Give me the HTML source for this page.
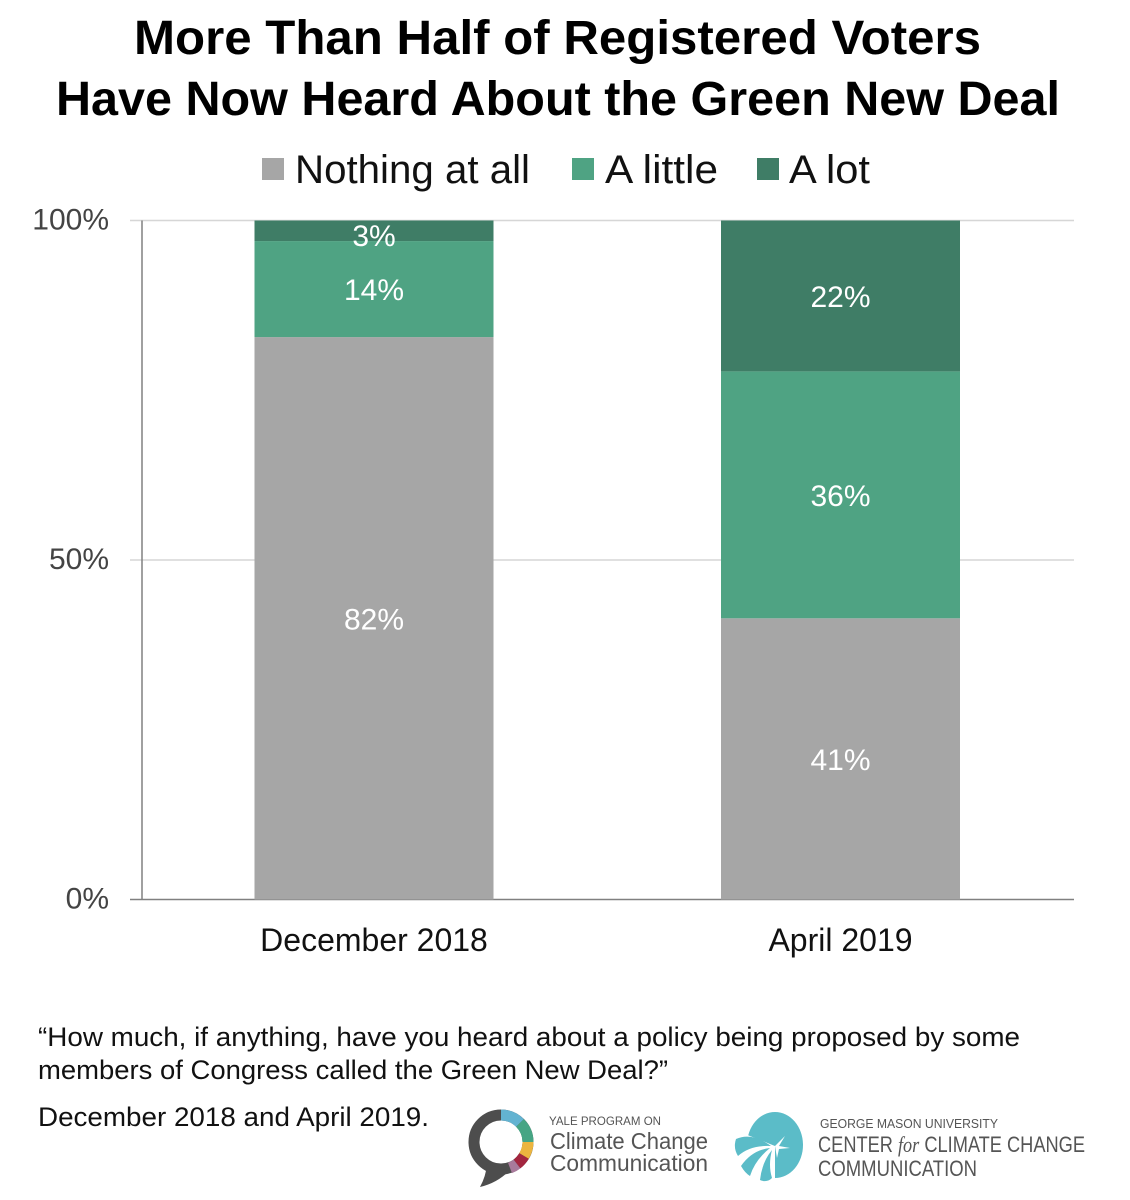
<!DOCTYPE html>
<html lang="en">
<head>
<meta charset="utf-8">
<title>More Than Half of Registered Voters Have Now Heard About the Green New Deal</title>
<style>
html,body{margin:0;padding:0;background:#fff;width:1130px;height:1200px;overflow:hidden}
svg{display:block;font-family:"Liberation Sans",Arial,sans-serif}
</style>
</head>
<body>
<svg id="chart" xmlns="http://www.w3.org/2000/svg" width="1130" height="1200" viewBox="0 0 1130 1200">
  <g font-weight="700" font-size="48" fill="#000">
    <text x="134" y="54" textLength="847" lengthAdjust="spacingAndGlyphs">More Than Half of Registered Voters</text>
    <text x="56" y="115" textLength="1004" lengthAdjust="spacingAndGlyphs">Have Now Heard About the Green New Deal</text>
  </g>
  <g font-size="40" fill="#111">
    <g>
      <rect x="262" y="158" width="22" height="22" fill="#a6a6a6"/>
      <text x="295" y="183" textLength="235" lengthAdjust="spacingAndGlyphs">Nothing at all</text>
    </g>
    <g>
      <rect x="572" y="158" width="22" height="22" fill="#4fa383"/>
      <text x="605" y="183" textLength="113" lengthAdjust="spacingAndGlyphs">A little</text>
    </g>
    <g>
      <rect x="757" y="158" width="22" height="22" fill="#3f7d66"/>
      <text x="789" y="183" textLength="81" lengthAdjust="spacingAndGlyphs">A lot</text>
    </g>
  </g>
  <g id="plot"></g>
  <g font-size="27" fill="#111">
    <text x="38" y="1046" textLength="982" lengthAdjust="spacingAndGlyphs">“How much, if anything, have you heard about a policy being proposed by some</text>
    <text x="38" y="1079" textLength="630" lengthAdjust="spacingAndGlyphs">members of Congress called the Green New Deal?”</text>
    <text x="38" y="1126" textLength="391" lengthAdjust="spacingAndGlyphs">December 2018 and April 2019.</text>
  </g>
  <g>
    <g fill="none" stroke-width="11">
      <circle cx="501" cy="1142" r="27" stroke="#4d4d4d"/>
      <path d="M501 1115A27 27 0 0 1 520 1123" stroke="#63b3d1"/>
      <path d="M520 1123A27 27 0 0 1 528 1142" stroke="#46a584"/>
      <path d="M528 1142A27 27 0 0 1 524 1156" stroke="#ecb53f"/>
      <path d="M524 1156A27 27 0 0 1 517 1164" stroke="#a3263f"/>
      <path d="M517 1164A27 27 0 0 1 510 1168" stroke="#a87a9b"/>
    </g>
    <path d="M487 1164L509 1171Q497 1183 480 1187Q486 1176 487 1164Z" fill="#4d4d4d"/>
    <text x="549" y="1125" font-size="12" fill="#555" textLength="112" lengthAdjust="spacingAndGlyphs">YALE PROGRAM ON</text>
    <text x="550" y="1149" font-size="23" fill="#555" textLength="158" lengthAdjust="spacingAndGlyphs">Climate Change</text>
    <text x="550" y="1171" font-size="23" fill="#555" textLength="158" lengthAdjust="spacingAndGlyphs">Communication</text>
  </g>
  <g>
    <g fill="#5bbcc8">
      <ellipse cx="775" cy="1145" rx="28" ry="33"/>
      <path d="M775 1146L745 1134L733 1150L745 1182L775 1182Z" fill="#fff"/>
      <path d="M771 1146Q752 1132 736 1139Q733 1148 738 1156Q750 1145 771 1146Z"/>
      <path d="M770 1148Q752 1150 741 1166Q745 1173 750 1176Q755 1160 770 1148Z"/>
      <path d="M772 1150Q762 1162 760 1180Q767 1183 772 1178Q768 1165 772 1150Z"/>
      <path d="M775 1146L785 1136L779 1146L790 1148L779 1149L777 1158Z" fill="#fff"/>
    </g>
    <text x="820" y="1128" font-size="12.5" fill="#555" textLength="178" lengthAdjust="spacingAndGlyphs">GEORGE MASON UNIVERSITY</text>
    <text x="818" y="1152" font-size="22" fill="#555" textLength="267" lengthAdjust="spacingAndGlyphs">CENTER <tspan font-family="Liberation Serif" font-style="italic">for</tspan> CLIMATE CHANGE</text>
    <text x="818" y="1176" font-size="22" fill="#555" textLength="159" lengthAdjust="spacingAndGlyphs">COMMUNICATION</text>
  </g>
</svg>
<script>
var categories = ["December 2018", "April 2019"];
var nothingAtAll = [82, 41];
var aLittle = [14, 36];
var aLot = [3, 22];
var tickValues = [0, 50, 100];
var tickLabels = ["0%", "50%", "100%"];

var NS = "http://www.w3.org/2000/svg";
var plot = document.getElementById("plot");
var LEFT = 142, RIGHT = 1074, TOP = 220.5, BOTTOM = 899.5, BAR_WIDTH = 239;
var seriesList = [
  {key: "nothing-at-all", values: nothingAtAll, color: "#a6a6a6"},
  {key: "a-little", values: aLittle, color: "#4fa383"},
  {key: "a-lot", values: aLot, color: "#3f7d66"}
];

function yScale(pct) {
  return BOTTOM - (pct / 100) * (BOTTOM - TOP);
}
function xCenter(i) {
  return 374 + i * 466.5;
}
function make(tag, attrs, text) {
  var el = document.createElementNS(NS, tag);
  for (var k in attrs) el.setAttribute(k, attrs[k]);
  if (text !== undefined) el.textContent = text;
  return el;
}

tickValues.forEach(function (v, i) {
  var y = yScale(v);
  var line = make("line", {x1: 130, x2: RIGHT, y1: y, y2: y, stroke: v === 0 ? "#808080" : "#d6d6d6", "stroke-width": 1.5});
  
  
  plot.appendChild(line);
  var label = make("text", {x: 109, y: y + 9, "text-anchor": "end", "font-size": 30, fill: "#444"}, tickLabels[i]);
  
  
  plot.appendChild(label);
});

var axis = make("line", {x1: LEFT, x2: LEFT, y1: TOP, y2: BOTTOM, stroke: "#808080", "stroke-width": 1.5});


plot.appendChild(axis);

categories.forEach(function (cat, i) {
  var total = 0;
  seriesList.forEach(function (s) { total += s.values[i]; });
  var running = 0;
  seriesList.forEach(function (s) {
    var start = running / total * 100;
    running += s.values[i];
    var end = running / total * 100;
    var rect = make("rect", {
      x: xCenter(i) - BAR_WIDTH / 2,
      y: yScale(end),
      width: BAR_WIDTH,
      height: yScale(start) - yScale(end),
      fill: s.color
    });
    
    
    plot.appendChild(rect);
  });
  running = 0;
  seriesList.forEach(function (s) {
    var start = running / total * 100;
    running += s.values[i];
    var end = running / total * 100;
    var yMid = (yScale(start) + yScale(end)) / 2;
    var t = make("text", {
      x: xCenter(i),
      y: yMid + 11 + (s.values[i] < 5 ? 4 : 0),
      "text-anchor": "middle",
      "font-size": 30,
      fill: "#fff"
    }, s.values[i] + "%");
    
    
    plot.appendChild(t);
  });
  var catLabel = make("text", {x: xCenter(i), y: 951, "text-anchor": "middle", "font-size": 32, fill: "#111"}, cat);
  
  
  plot.appendChild(catLabel);
});
</script>
</body>
</html>
